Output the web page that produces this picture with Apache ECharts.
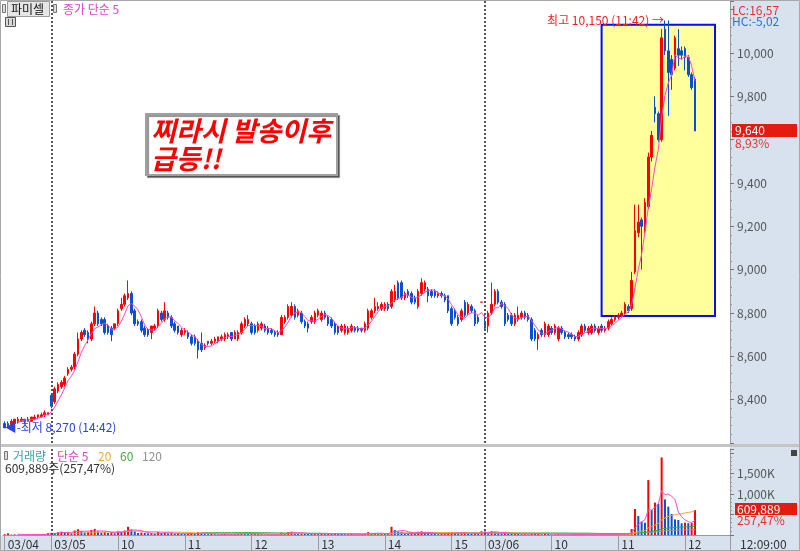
<!DOCTYPE html>
<html><head><meta charset="utf-8">
<script src="https://cdn.jsdelivr.net/npm/echarts@6/dist/echarts.min.js"></script>
<style>html,body{margin:0;padding:0;background:#fff}#c{width:800px;height:551px}</style>
</head><body><div id="c"></div>
<script>
const FONT = '"Noto Sans CJK KR", "DejaVu Sans", sans-serif';

// ---- categories (3-minute bars) ----
const dayNames = ['03/04', '03/05', '03/06'];
const dayStartMin = [14 * 60 + 42, 9 * 60, 9 * 60];
const emptySlots = 10;

// ---- candles [open, close, low, high] ----
const candles0304 = [
  [8290,8270,8270,8300],[8290,8280,8270,8300],[8280,8300,8280,8310],[8290,8310,8290,8310],
  [8300,8310,8290,8320],[8300,8310,8300,8320],[8310,8300,8290,8310],[8310,8300,8300,8320],
  [8300,8320,8300,8320],[8310,8320,8310,8330],[8320,8330,8310,8330],[8320,8330,8320,8340],
  [8330,8340,8320,8350],[8330,8340,8330,8340]
];
const candles0305 = [
  [8420,8370,8360,8430],[8390,8450,8380,8460],[8440,8470,8430,8480],[8460,8480,8450,8490],
  [8470,8500,8460,8510],[8520,8540,8510,8550],[8540,8550,8530,8560],[8550,8610,8540,8620],
  [8610,8680,8600,8710],[8680,8710,8670,8720],[8720,8700,8690,8730],[8710,8680,8660,8720],
  [8680,8750,8670,8760],[8750,8800,8740,8830],[8800,8750,8740,8810],[8770,8750,8740,8780],
  [8770,8710,8700,8780],[8740,8710,8700,8750],[8730,8700,8670,8740],[8730,8750,8720,8750],
  [8750,8810,8740,8820],[8820,8840,8810,8870],[8840,8880,8830,8890],[8870,8890,8860,8950],
  [8890,8800,8790,8900],[8810,8750,8740,8820],[8760,8750,8740,8770],[8760,8720,8710,8770],
  [8730,8700,8690,8740],[8720,8700,8690,8730],[8710,8740,8680,8740],[8730,8740,8720,8750],
  [8740,8810,8730,8820],[8800,8770,8760,8810],[8770,8810,8760,8850],[8800,8780,8770,8810],
  [8780,8740,8730,8790],[8750,8720,8710,8760],[8740,8710,8700,8740],[8700,8720,8690,8730],
  [8710,8720,8700,8730],[8710,8690,8680,8720],[8690,8660,8650,8700],[8690,8660,8650,8700],
  [8670,8630,8590,8680],[8660,8630,8620,8710],[8640,8650,8630,8660],[8670,8660,8650,8670],
  [8660,8670,8650,8680],[8670,8680,8660,8690],[8670,8690,8660,8690],[8680,8690,8670,8700],
  [8680,8700,8670,8710],[8690,8700,8680,8710],[8710,8680,8670,8710],[8680,8710,8680,8720],
  [8680,8710,8670,8720],[8710,8750,8700,8760],[8740,8770,8730,8780],[8750,8770,8740,8790],
  [8750,8710,8700,8760],[8740,8710,8700,8750],[8720,8750,8710,8760],[8730,8750,8720,8760],
  [8740,8720,8710,8750],[8730,8710,8700,8740],[8720,8710,8700,8730],[8710,8700,8690,8720],
  [8710,8700,8690,8720],[8700,8780,8700,8790],[8760,8780,8750,8790],[8780,8830,8770,8840],
  [8790,8830,8780,8850],[8830,8780,8770,8840],[8790,8810,8780,8820],[8800,8760,8750,8810],
  [8760,8740,8730,8770],[8750,8730,8710,8760],[8760,8780,8750,8790],[8760,8800,8750,8810],
  [8790,8810,8780,8820],[8770,8800,8760,8810],[8800,8780,8770,8810],[8780,8750,8740,8790],
  [8770,8740,8730,8780],[8750,8710,8700,8760],[8740,8710,8700,8740],[8720,8740,8710,8750],
  [8710,8740,8700,8750],[8710,8730,8700,8740],[8720,8740,8710,8750],[8730,8720,8710,8740],
  [8730,8720,8710,8740],[8730,8720,8710,8730],[8720,8750,8710,8760],[8730,8810,8720,8820],
  [8780,8810,8770,8820],[8810,8830,8800,8870],[8820,8830,8810,8850],[8820,8840,8810,8850],
  [8820,8840,8810,8850],[8840,8820,8810,8850],[8830,8900,8820,8910],[8860,8900,8850,8930],
  [8940,8870,8860,8950],[8940,8870,8860,8950],[8870,8890,8860,8900],[8900,8880,8870,8910],
  [8890,8850,8840,8900],[8870,8850,8840,8880],[8830,8900,8820,8910],[8890,8940,8880,8960],
  [8910,8940,8900,8950],[8910,8880,8850,8920],[8900,8880,8870,8910],[8900,8880,8870,8910],
  [8880,8890,8870,8900],[8890,8880,8870,8900],[8880,8860,8850,8890],[8880,8810,8800,8880],
  [8820,8750,8740,8830],[8810,8780,8770,8820],[8780,8750,8740,8790],[8770,8810,8760,8820],
  [8850,8790,8780,8860],[8800,8840,8790,8850],[8830,8810,8800,8840],[8810,8750,8740,8820],
  [8780,8760,8750,8790],[8850,8850,8850,8850]
];
const candles0306 = [
  [8760,8730,8720,8790],[8740,8800,8710,8810],[8800,8840,8790,8940],[8840,8900,8830,8910],
  [8900,8850,8840,8910],[8850,8830,8820,8860],[8840,8750,8740,8850],[8790,8770,8760,8800],
  [8790,8750,8740,8800],[8750,8790,8740,8800],[8770,8790,8760,8830],[8780,8800,8770,8810],
  [8800,8780,8770,8810],[8790,8770,8760,8800],[8770,8680,8670,8780],[8720,8680,8670,8730],
  [8680,8700,8630,8710],[8720,8700,8690,8730],[8700,8750,8690,8760],[8700,8740,8690,8750],
  [8730,8710,8700,8740],[8710,8740,8700,8750],[8680,8730,8670,8740],[8730,8710,8700,8740],
  [8710,8690,8680,8720],[8700,8690,8680,8710],[8700,8690,8680,8710],[8690,8680,8670,8700],
  [8680,8710,8670,8720],[8700,8740,8690,8750],[8740,8720,8710,8750],[8710,8730,8700,8740],
  [8710,8740,8700,8750],[8740,8720,8710,8750],[8710,8730,8700,8740],[8740,8720,8710,8750],
  [8720,8730,8710,8740],[8730,8760,8720,8770],[8750,8770,8740,8780],[8770,8780,8760,8790],
  [8780,8790,8770,8800],[8790,8800,8780,8810],[8800,8840,8790,8850],[8830,8810,8800,8840],
  [8820,8950,8810,8990],[8990,9180,8980,9300],[9170,9220,9150,9300],[9230,9200,9000,9240],
  [9180,9310,9170,9330],[9290,9520,9280,9540],[9520,9620,9500,9640],[9750,9720,9680,9800],
  [9720,9600,9590,9730],[9600,10070,9590,10110],[10110,10010,9990,10150],[10010,9910,9710,10150],
  [9970,9900,9830,9990],[9930,10070,9920,10080],[10020,9990,9940,10110],[10010,9990,9970,10030],
  [10020,9980,9920,10030],[9980,9900,9890,9990],[9900,9840,9830,9910],[9880,9640,9640,9890]
];

// ---- volume, thousands of shares ----
const volume0304 = [20,40,10,15,10,8,10,12,8,10,12,15,20,45];
const volume0305 = [
  55,50,65,80,60,70,55,110,140,90, 60,75,120,150,90,60,70,50,60,40,
  100,80,110,200,130,90,50,60,50,40, 45,30,80,50,60,40,45,35,40,30,
  25,35,45,40,65,50,30,20,25,20, 15,20,25,15,20,25,30,45,35,30,
  35,25,30,20,15,20,15,15,20,60, 35,70,80,50,30,40,35,30,25,35,
  30,40,25,30,25,35,30,25,20,20, 25,15,15,15,25,70,40,50,30,35,
  30,35,200,120,90,80,50,40,55,45, 80,90,50,45,30,25,20,25,30,60,
  70,45,40,50,50,45,30,55,35,90
];
const volume0306 = [
  85,60,90,70,45,30,55,30,25,30, 25,20,20,15,50,35,45,20,30,25,
  15,20,25,15,15,10,10,15,20,25, 15,15,20,15,15,10,15,25,20,20,
  25,20,35,30,146,634,463,325,300,1341, 610,790,760,1894,870,691,512,382,366,285,
  301,290,290,609.889
];

// ---- axis tick labels ----
const xTickIndex = [0, 14, 34, 54, 74, 94, 114, 134, 144, 164, 184, 204];
const xTickText  = ['03/04','03/05','10','11','12','13','14','15','03/06','10','11','12'];
const priceTicksShown = [8400, 8600, 8800, 9000, 9200, 9400, 9800, 10000];
const volTicksShown = [1000, 1500];

// ---- build ----
const candles = candles0304.concat(candles0305, candles0306);
const volumes = volume0304.concat(volume0305, volume0306);
const dayCounts = [candles0304.length, candles0305.length, candles0306.length];
const categories = [];
dayCounts.forEach((n, d) => {
  for (let k = 0; k < n; k++) {
    const m = dayStartMin[d] + 3 * k;
    categories.push(dayNames[d] + ' ' + String(Math.floor(m / 60)).padStart(2, '0') + ':' + String(m % 60).padStart(2, '0'));
  }
});
for (let k = 0; k < emptySlots; k++) categories.push('pad' + k);

const closes = candles.map(c => c[1]);
function sma(arr, n) {
  return arr.map((_, i) => {
    if (i < n - 1) return null;
    let s = 0; for (let k = i - n + 1; k <= i; k++) s += arr[k];
    return +(s / n).toFixed(2);
  });
}
const fmt = v => String(v).replace(/\B(?=(\d{3})+(?!\d))/g, ',');
const dayStartIdx = [dayCounts[0], dayCounts[0] + dayCounts[1]];
const tickMap = {}; xTickIndex.forEach((ix, k) => tickMap[ix] = xTickText[k]);

const RED = '#ff0000', BLUE = '#0a4fd0', PINK = '#ff48c8';
const chart = echarts.init(document.getElementById('c'), null, {renderer: 'canvas'});

const option = {
  animation: false,
  textStyle: {fontFamily: FONT},
  grid: [
    {left: 3, right: 70, top: 1, height: 442},
    {left: 3, right: 70, top: 449, height: 86}
  ],
  xAxis: [
    {type: 'category', gridIndex: 0, data: categories, boundaryGap: true, show: false},
    {type: 'category', gridIndex: 1, data: categories, boundaryGap: true,
     axisLine: {show: true, lineStyle: {color: '#9a9a9a'}},
     axisTick: {show: true, alignWithLabel: true, length: 15, interval: (i) => tickMap[i] !== undefined, lineStyle: {color: '#9a9a9a'}},
     axisLabel: {show: true, interval: (i) => tickMap[i] !== undefined, align: 'left', margin: 3,
       padding: [0, 0, 0, 3], fontSize: 12, fontFamily: FONT, color: '#333',
       formatter: (v, i) => tickMap[i] || ''},
     splitLine: {show: false}}
  ],
  yAxis: [
    {type: 'value', gridIndex: 0, position: 'right', min: 8200, max: 10240, interval: 200,
     axisLine: {show: true, lineStyle: {color: '#9a9a9a'}},
     axisTick: {show: true, length: 4, lineStyle: {color: '#777'}},
     minorTick: {show: true, splitNumber: 5, length: 2, lineStyle: {color: '#999'}},
     axisLabel: {margin: 7, fontSize: 12, fontFamily: FONT, color: '#555',
       formatter: v => priceTicksShown.indexOf(v) >= 0 ? fmt(v) : ''},
     splitLine: {show: false}},
    {type: 'value', gridIndex: 1, position: 'right', min: 0, max: 2100, interval: 500,
     axisLine: {show: true, lineStyle: {color: '#9a9a9a'}},
     axisTick: {show: true, length: 4, lineStyle: {color: '#777'}},
     minorTick: {show: true, splitNumber: 5, length: 2, lineStyle: {color: '#999'}},
     axisLabel: {margin: 7, fontSize: 12, fontFamily: FONT, color: '#555',
       formatter: v => volTicksShown.indexOf(v) >= 0 ? fmt(v) + 'K' : ''},
     splitLine: {show: false}}
  ],
  series: [
    {type: 'line', name: 'frame0', xAxisIndex: 0, yAxisIndex: 0, data: [], z: 1, silent: true,
     markArea: {silent: true, itemStyle: {color: '#ffff9c', borderColor: '#0a0aff', borderWidth: 2},
       data: [[{coord: [179, 10130]}, {coord: [213, 8786]}]]},
     markLine: {silent: true, symbol: 'none', label: {show: false},
       lineStyle: {color: '#555', width: 2, type: [2, 2]},
       data: dayStartIdx.map(ix => ({xAxis: ix}))}},
    {type: 'line', name: 'frame1', xAxisIndex: 1, yAxisIndex: 1, data: [], z: 1, silent: true,
     markLine: {silent: true, symbol: 'none', label: {show: false},
       lineStyle: {color: '#555', width: 2, type: [2, 2]},
       data: dayStartIdx.map(ix => ({xAxis: ix}))}},
    {type: 'candlestick', name: 'price', xAxisIndex: 0, yAxisIndex: 0, data: candles, z: 3,
     barWidth: 2,
     itemStyle: {color: RED, color0: BLUE, borderColor: RED, borderColor0: BLUE, borderWidth: 1},
     markPoint: {silent: true, symbol: 'circle', symbolSize: 0,
       data: [
         {coord: [dayCounts[0] + dayCounts[1] + 54, 10150],
          label: {show: true, position: 'left', distance: 1, formatter: '최고 10,150 (11:42) →', color: '#ee2222', fontSize: 12, fontFamily: FONT}},
         {coord: [0, 8270],
          label: {show: true, position: 'right', distance: 0, formatter: '◀-최저 8,270 (14:42)', color: '#2a44e0', fontSize: 12, fontFamily: FONT}}
       ]}},
    {type: 'line', name: 'ma5', xAxisIndex: 0, yAxisIndex: 0, data: sma(closes, 5), z: 4,
     showSymbol: false, symbol: 'none', lineStyle: {color: PINK, width: 1}},
    {type: 'bar', name: 'vol', xAxisIndex: 1, yAxisIndex: 1, data: volumes, z: 3, barWidth: 2,
     itemStyle: {color: p => (p.dataIndex === 0 || volumes[p.dataIndex] >= volumes[p.dataIndex - 1]) ? RED : BLUE}},
    {type: 'line', xAxisIndex: 1, yAxisIndex: 1, data: sma(volumes, 120), z: 4, symbol: 'none', lineStyle: {color: '#9a9a9a', width: 1}},
    {type: 'line', xAxisIndex: 1, yAxisIndex: 1, data: sma(volumes, 60), z: 4, symbol: 'none', lineStyle: {color: '#30b040', width: 1}},
    {type: 'line', xAxisIndex: 1, yAxisIndex: 1, data: sma(volumes, 20), z: 4, symbol: 'none', lineStyle: {color: '#f0a830', width: 1}},
    {type: 'line', xAxisIndex: 1, yAxisIndex: 1, data: sma(volumes, 5), z: 4, symbol: 'none', lineStyle: {color: PINK, width: 1}}
  ]
};
chart.setOption(option);

function txt(x, y, text, fill, font, extra) {
  return Object.assign({type: 'text', z: 20, style: Object.assign({x, y, text, fill, font: font || ('12px ' + FONT),
    align: 'left', verticalAlign: 'middle', textAlign: 'left', textVerticalAlign: 'middle'}, extra || {})});
}
const lastClose = closes[closes.length - 1];
const lastVol = volumes[volumes.length - 1];
const py = chart.convertToPixel({yAxisIndex: 0}, lastClose);
const vy = chart.convertToPixel({yAxisIndex: 1}, lastVol);

const G = [
  {type: 'rect', z: -10, shape: {x: 0, y: 0, width: 800, height: 551}, style: {fill: '#ffffff'}},
  {type: 'rect', z: -9, shape: {x: 730, y: 0, width: 70, height: 551}, style: {fill: '#d7e2ee'}},
  {type: 'rect', z: -9, shape: {x: 0, y: 536, width: 800, height: 15}, style: {fill: '#d7e2ee'}},
  {type: 'rect', z: -8, shape: {x: 0, y: 444, width: 800, height: 3}, style: {fill: '#c4c4c4'}},
  {type: 'line', z: 5, shape: {x1: 730.5, y1: 536, x2: 730.5, y2: 551}, style: {stroke: '#9a9a9a', lineWidth: 1}},
  {type: 'rect', z: 30, shape: {x: 0.5, y: 0.5, width: 799, height: 550}, style: {fill: 'none', stroke: '#a8a8a8', lineWidth: 1}},
  // top-left header
  {type: 'rect', z: 20, shape: {x: 2.5, y: 4.5, width: 3, height: 8}, style: {fill: '#ddd', stroke: '#777', lineWidth: 1}},
  {type: 'rect', z: 20, shape: {x: 7.5, y: 1.5, width: 42, height: 15}, style: {fill: '#e6e6e6', stroke: '#9a9a9a', lineWidth: 1}},
  txt(11, 9, '파미셀', '#111'),
  {type: 'rect', z: 20, shape: {x: 53.5, y: 4.5, width: 3, height: 8}, style: {fill: '#ddd', stroke: '#777', lineWidth: 1}},
  txt(63, 9, '종가 단순 5', '#e044c8'),
  {type: 'rect', z: 20, shape: {x: 5.5, y: 17.5, width: 10, height: 9}, style: {fill: '#d8d8d8', stroke: '#555', lineWidth: 1}},
  {type: 'line', z: 21, shape: {x1: 8.5, y1: 19, x2: 8.5, y2: 25}, style: {stroke: '#555'}},
  {type: 'line', z: 21, shape: {x1: 12.5, y1: 19, x2: 12.5, y2: 25}, style: {stroke: '#555'}},
  // right-top LC/HC
  txt(732, 10, 'LC:16,57', '#e83030'),
  txt(732, 21, 'HC:-5,02', '#2e6fd8'),
  // annotation box
  {type: 'rect', z: 20, shape: {x: 146, y: 114, width: 191, height: 61},
   style: {fill: '#fff', stroke: '#a0a0a0', lineWidth: 2, shadowColor: 'rgba(0,0,0,0.45)', shadowOffsetX: 2, shadowOffsetY: 2, shadowBlur: 1}},
  txt(151, 131, '찌라시 발송이후', '#ff0000', 'italic bold 27px ' + FONT),
  txt(151, 159, '급등!!', '#ff0000', 'italic bold 27px ' + FONT),
  // volume header
  {type: 'rect', z: 20, shape: {x: 4.5, y: 451.5, width: 3, height: 8}, style: {fill: '#ddd', stroke: '#777', lineWidth: 1}},
  txt(13, 456, '거래량', '#3aa0a8'),
  txt(57, 456, '단순 5', '#e044c8'),
  txt(98, 456, '20', '#f0a830'),
  txt(120, 456, '60', '#38b040'),
  txt(142, 456, '120', '#909090'),
  txt(5, 468, '609,889주(257,47%)', '#333'),
  {type: 'rect', z: 20, shape: {x: 791, y: 450, width: 6, height: 6}, style: {fill: '#444'}},
  // current values
  {type: 'rect', z: 20, shape: {x: 732, y: py - 7, width: 65, height: 13}, style: {fill: '#e41b10'}},
  txt(735, py - 0.5, fmt(lastClose), '#ffffff'),
  txt(735, py + 12, '8,93%', '#e83030'),
  {type: 'rect', z: 20, shape: {x: 735, y: vy - 7, width: 62, height: 12}, style: {fill: '#e41b10'}},
  txt(737, vy - 1, '609,889', '#ffffff'),
  txt(737, vy + 10.5, '257,47%', '#e83030'),
  // time in strip
  txt(740, 544, '12:09:00', '#333')
];
chart.setOption({graphic: {elements: G}});
</script>
</body></html>
